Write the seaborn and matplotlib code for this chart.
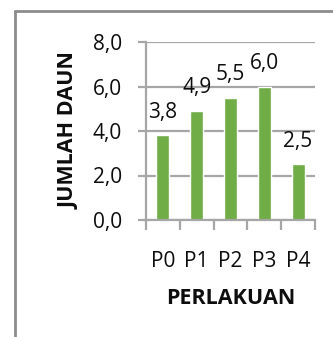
import matplotlib
matplotlib.use("Agg")
import matplotlib.pyplot as plt
from matplotlib.lines import Line2D
import seaborn as sns
import pandas as pd

categories = ["P0", "P1", "P2", "P3", "P4"]
values = [3.8, 4.9, 5.5, 6.0, 2.5]
yticks = [0, 2, 4, 6, 8]

sns.set_theme(style="white")
plt.rcParams["font.family"] = ["Open Sans", "DejaVu Sans"]

df = pd.DataFrame({"PERLAKUAN": categories, "JUMLAH DAUN": values})

W, H = 333, 337
fig = plt.figure(figsize=(W / 100, H / 100), dpi=100)
fig.patch.set_facecolor("white")
ax = fig.add_axes([146 / W, 1 - 220 / H, (315 - 146) / W, (220 - 42) / H])

sns.barplot(data=df, x="PERLAKUAN", y="JUMLAH DAUN", color="#70AD47",
            saturation=1, width=0.38, ax=ax)

grid_c = "#a6a6a6"
txt_c = "#0d0d0d"
ax.set_ylim(0, 8)
ax.set_xlim(-0.5, len(categories) - 0.5)
ax.set_yticks(yticks)
ax.set_yticklabels([f"{t:.1f}".replace(".", ",") for t in yticks])
ax.yaxis.grid(True, color=grid_c, linewidth=1.6)
ax.set_axisbelow(True)
for s in ["top", "right"]:
    ax.spines[s].set_visible(False)
for s in ["left", "bottom"]:
    ax.spines[s].set_color(grid_c)
    ax.spines[s].set_linewidth(1.6)

# category boundary ticks below the x axis
ax.set_xticks([i - 0.5 for i in range(len(categories) + 1)], minor=True)
ax.tick_params(axis="x", which="minor", length=7, width=1.6, color=grid_c, direction="out", bottom=True)
ax.tick_params(axis="x", which="major", length=0, pad=22, labelsize=15, labelcolor=txt_c)
ax.tick_params(axis="y", which="major", length=6, width=1.6, color=grid_c, left=True, pad=11.5,
               labelsize=15, labelcolor=txt_c)

ax.bar_label(ax.containers[0], labels=[f"{v:.1f}".replace(".", ",") for v in values],
             padding=9, fontsize=15, color=txt_c)

ax.set_xlabel("PERLAKUAN", fontsize=15.5, fontweight="bold", color=txt_c, labelpad=12)
ax.set_ylabel("JUMLAH DAUN", fontsize=15.5, fontweight="bold", color=txt_c, labelpad=9)

# chart frame edges
fig.add_artist(Line2D([15 / W, 15 / W], [0, 1 - 11 / H], transform=fig.transFigure,
                      color="#8c8c8c", linewidth=2))
fig.add_artist(Line2D([15 / W, 1], [1 - 11 / H, 1 - 11 / H], transform=fig.transFigure,
                      color="#8c8c8c", linewidth=2))

fig.savefig("out.png", dpi=100)
